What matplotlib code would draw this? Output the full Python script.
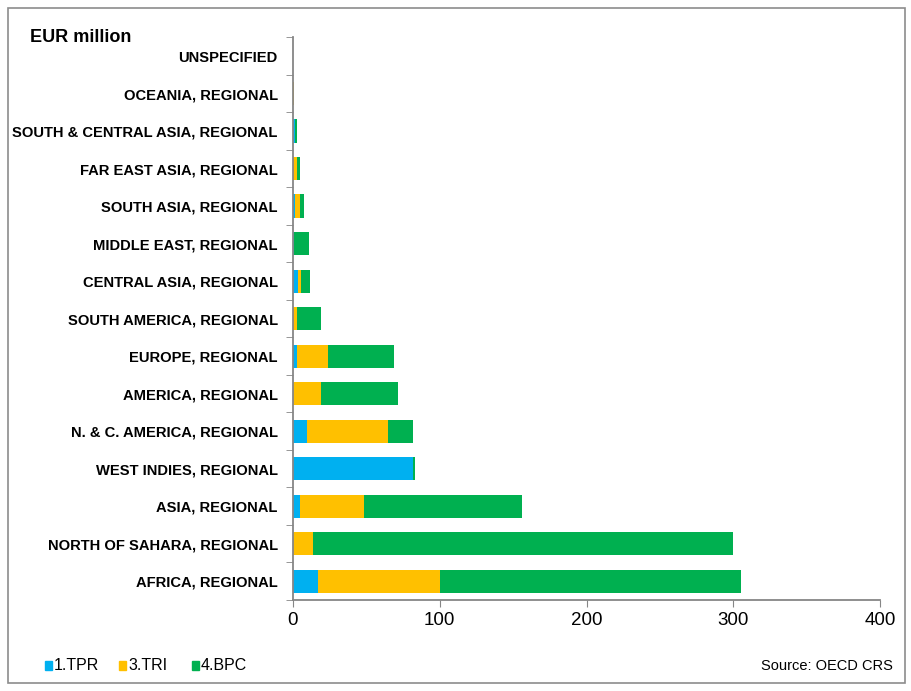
import numpy as np
import matplotlib
matplotlib.use("Agg")
import matplotlib.pyplot as plt
from matplotlib.patches import Rectangle

plt.rcParams['font.family'] = ['Liberation Sans', 'DejaVu Sans']

# categories, bottom to top
regions = ["AFRICA, REGIONAL", "NORTH OF SAHARA, REGIONAL", "ASIA, REGIONAL",
           "WEST INDIES, REGIONAL", "N. & C. AMERICA, REGIONAL", "AMERICA, REGIONAL",
           "EUROPE, REGIONAL", "SOUTH AMERICA, REGIONAL", "CENTRAL ASIA, REGIONAL",
           "MIDDLE EAST, REGIONAL", "SOUTH ASIA, REGIONAL", "FAR EAST ASIA, REGIONAL",
           "SOUTH & CENTRAL ASIA, REGIONAL", "OCEANIA, REGIONAL", "UNSPECIFIED"]

tpr = [17.0, 0.0, 4.5, 82.0, 9.8, 0.0, 2.5, 0.3, 3.6, 1.0, 1.3, 0.3, 1.5, 0.2, 0.0]
tri = [83.5, 13.9, 44.2, 0.0, 55.2, 18.9, 21.6, 2.2, 2.1, 0.0, 3.5, 2.2, 0.0, 0.2, 0.0]
bpc = [204.5, 286.0, 107.3, 1.3, 17.0, 53.0, 44.9, 16.4, 6.1, 9.7, 2.9, 2.0, 1.0, 0.2, 0.0]

series_names = ["1.TPR", "3.TRI", "4.BPC"]
colors = ["#00B0F0", "#FFC000", "#00B050"]

fig = plt.figure(figsize=(9.11, 6.91), dpi=100)
ax = fig.add_axes([0.3216, 0.1317, 0.966 - 0.3216, 0.946 - 0.1317])

y = np.arange(len(regions))
left = np.zeros(len(regions))
for vals, c in zip([tpr, tri, bpc], colors):
    vals = np.array(vals)
    ax.barh(y, vals, left=left, height=0.62, color=c, edgecolor='none')
    left += vals

ax.set_ylim(-0.5, len(regions) - 0.5)
ax.set_xlim(0, 400)
ax.set_xticks([0, 100, 200, 300, 400])
ax.tick_params(axis='x', labelsize=13.5, length=5, color='#868686', direction='out')

ax.set_yticks(y)
ax.set_yticklabels(regions, fontsize=10.6, fontweight='bold')
ax.tick_params(axis='y', length=0, pad=11)
ax.set_yticks(np.arange(-0.5, len(regions), 1), minor=True)
ax.tick_params(axis='y', which='minor', length=5, color='#868686')

for s in ['top', 'right']:
    ax.spines[s].set_visible(False)
for s in ['left', 'bottom']:
    ax.spines[s].set_color('#868686')
    ax.spines[s].set_linewidth(1.3)

fig.text(30 / 911, 1 - 37 / 691, "EUR million", fontsize=13, fontweight='bold', va='center')

# legend along the bottom
lx = [45, 119, 192]
for x0, name, c in zip(lx, series_names, colors):
    fig.patches.append(Rectangle((x0 / 911, 1 - 670 / 691), 7 / 911, 9 / 691,
                                 transform=fig.transFigure, color=c))
    fig.text((x0 + 9) / 911, 1 - 665.5 / 691, name, fontsize=11.5, va='center')
fig.text(893 / 911, 1 - 665.5 / 691, "Source: OECD CRS", fontsize=10.5, va='center', ha='right')

# outer frame
fig.patches.append(Rectangle((8 / 911, 8 / 691), 897 / 911, 675 / 691, transform=fig.transFigure,
                             fill=False, edgecolor='#8c8c8c', linewidth=1.2))

plt.savefig("out.png", dpi=100)
plt.close()
